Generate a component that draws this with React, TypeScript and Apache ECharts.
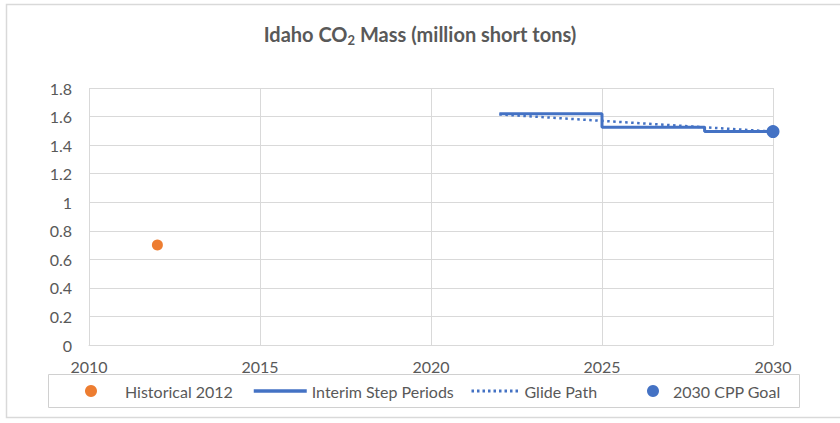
import React, { useEffect, useRef } from "react";
import * as echarts from "echarts";

const historicalYears = [2012];
const historicalValues = [0.7];
const stepYears = [2022, 2025, 2028, 2030];
const stepValues = [1.62, 1.525, 1.495, 1.495];
const glideYears = [2022, 2025, 2028, 2030];
const glideValues = [1.615, 1.57, 1.525, 1.495];
const goalYears = [2030];
const goalValues = [1.495];
const seriesNames = ["Historical 2012", "Interim Step Periods", "Glide Path", "2030 CPP Goal"];

const FONT = "Lato";
const GREY = "#595959";
const BLUE = "#4472C4";
const ORANGE = "#ED7D31";

const zip = (xs: number[], ys: number[]) => xs.map((x, i) => [x, ys[i]]);

export default function App() {
  const ref = useRef<HTMLDivElement>(null);
  useEffect(() => {
    if (!ref.current) return;
    const chart = echarts.init(ref.current, null, { renderer: "svg" });
    const legendBase = {
      top: 383,
      itemHeight: 12,
      textStyle: { fontFamily: FONT, fontSize: 16, color: GREY },
      padding: 0,
    };
    chart.setOption({
      animation: false,
      backgroundColor: "#fff",
      title: {
        text: "{t|Idaho CO}{s|2}{t| Mass (million short tons)}",
        left: "center",
        top: 17,
        textStyle: {
          rich: {
            t: { fontFamily: FONT, fontSize: 20, fontWeight: "bold", color: GREY },
            s: { fontFamily: FONT, fontSize: 13, fontWeight: "bold", color: GREY, padding: [11, 0, 0, 0] },
          },
        },
      },
      graphic: [
        {
          type: "rect",
          shape: { x: 6.5, y: 4.5, width: 840, height: 413 },
          style: { fill: "none", stroke: "#d9d9d9", lineWidth: 1.5 },
          silent: true,
        },
        {
          type: "rect",
          shape: { x: 48.5, y: 374.5, width: 751, height: 33 },
          style: { fill: "none", stroke: "#d0d0d0", lineWidth: 1 },
          silent: true,
        },
      ],
      legend: [
        {
          ...legendBase,
          left: 85,
          itemWidth: 12,
          textStyle: { ...legendBase.textStyle, padding: [0, 0, 0, 23] },
          data: [{ name: seriesNames[0], icon: "circle" }],
        },
        {
          ...legendBase,
          left: 252,
          itemWidth: 53,
          itemStyle: { opacity: 0 },
          lineStyle: { width: 3.5 },
          data: [seriesNames[1]],
        },
        {
          ...legendBase,
          left: 470,
          itemWidth: 48,
          itemStyle: { opacity: 0 },
          lineStyle: { width: 3, type: [2.5, 3] },
          data: [seriesNames[2]],
        },
        {
          ...legendBase,
          left: 647,
          itemWidth: 12,
          textStyle: { ...legendBase.textStyle, padding: [0, 0, 0, 9] },
          data: [{ name: seriesNames[3], icon: "circle" }],
        },
      ],
      grid: { left: 89, right: 67, top: 88, bottom: 78 },
      xAxis: {
        type: "value",
        min: 2010,
        max: 2030,
        interval: 5,
        axisLine: { show: true, lineStyle: { color: "#d9d9d9", width: 1 } },
        axisTick: { show: false },
        splitLine: { show: true, lineStyle: { color: "#d9d9d9", width: 1 } },
        axisLabel: {
          fontFamily: FONT,
          fontSize: 16,
          color: GREY,
          margin: 13,
          showMinLabel: true,
          showMaxLabel: true,
          formatter: (v: number) => String(v),
        },
      },
      yAxis: {
        type: "value",
        min: 0,
        max: 1.8,
        interval: 0.2,
        axisLine: { show: false },
        axisTick: { show: false },
        splitLine: { show: true, lineStyle: { color: "#d9d9d9", width: 1 } },
        axisLabel: {
          fontFamily: FONT,
          fontSize: 16,
          color: GREY,
          margin: 17,
          formatter: (v: number) => String(Math.round(v * 10) / 10),
        },
      },
      series: [
        {
          name: seriesNames[0],
          type: "scatter",
          data: zip(historicalYears, historicalValues),
          symbol: "circle",
          symbolSize: 11,
          itemStyle: { color: ORANGE, opacity: 1 },
        },
        {
          name: seriesNames[1],
          type: "line",
          step: "end",
          data: zip(stepYears, stepValues),
          symbol: "none",
          lineStyle: { color: BLUE, width: 3 },
          itemStyle: { color: BLUE },
        },
        {
          name: seriesNames[2],
          type: "line",
          data: zip(glideYears, glideValues),
          symbol: "none",
          lineStyle: { color: BLUE, width: 2.5, type: [2.5, 3.5] },
          itemStyle: { color: BLUE },
        },
        {
          name: seriesNames[3],
          type: "scatter",
          data: zip(goalYears, goalValues),
          symbol: "circle",
          symbolSize: 13,
          itemStyle: { color: BLUE, opacity: 1 },
          z: 5,
        },
      ],
    });
    return () => chart.dispose();
  }, []);
  return (
    <div
      ref={ref}
      style={{ position: "fixed", left: 0, top: 0, width: 840, height: 423 }}
    />
  );
}
